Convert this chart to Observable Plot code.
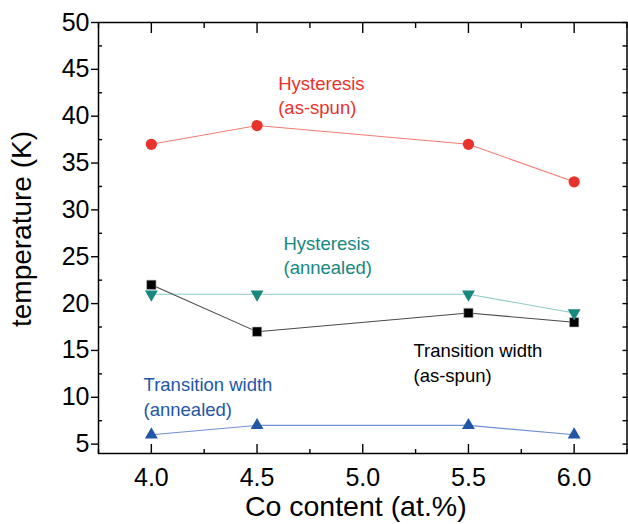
<!DOCTYPE html>
<html>
<head>
<meta charset="utf-8">
<script src="https://cdn.jsdelivr.net/npm/d3@7"></script>
<script src="https://cdn.jsdelivr.net/npm/@observablehq/plot@0.6"></script>
<style>
  html, body { margin: 0; padding: 0; background: #fff; }
  #chart svg { font-family: "Liberation Sans", Arial, Helvetica, sans-serif; }
</style>
</head>
<body>
<div id="chart"></div>
<script>
// Data
const coContent = [4.0, 4.5, 5.5, 6.0];
const hysteresisAsSpun = [37, 39, 37, 33];
const hysteresisAnnealed = [21, 21, 21, 19];
const widthAsSpun = [22, 17, 19, 18];
const widthAnnealed = [6, 7, 7, 6];

const xMajorTicks = [4.0, 4.5, 5.0, 5.5, 6.0];
const xMinorTicks = [3.75, 4.25, 4.75, 5.25, 5.75, 6.25];
const yMajorTicks = [5, 10, 15, 20, 25, 30, 35, 40, 45, 50];
const yMinorTicks = [7.5, 12.5, 17.5, 22.5, 27.5, 32.5, 37.5, 42.5, 47.5];

const labelTexts = ["Hysteresis\n(as-spun)", "Hysteresis\n(annealed)", "Transition width\n(as-spun)", "Transition width\n(annealed)"];
const labelX = [4.60, 4.625, 5.24, 3.963];
const labelY = [44.68, 27.55, 16.1, 12.47];

const colors = {red: "#e8322b", redLine: "#f27b6f", teal: "#17877f", tealLine: "#8ecbc6", black: "#000000", blackLine: "#4a4a4a", blue: "#2257a6", blueLine: "#6f90d2"};
const labelColors = [colors.red, colors.teal, "#000000", colors.blue];

const series = (ys) => coContent.map((x, i) => ({x, y: ys[i]}));
const sHA = series(hysteresisAsSpun);
const sHN = series(hysteresisAnnealed);
const sWA = series(widthAsSpun);
const sWN = series(widthAnnealed);
const labels = labelTexts.map((t, i) => ({t, x: labelX[i], y: labelY[i], c: labelColors[i]}));

const tk = {stroke: "#000", strokeWidth: 1.4, label: null, tickFormat: () => ""};

const chart = Plot.plot({
  width: 628,
  height: 524,
  marginTop: 22,
  marginRight: 1.5,
  marginBottom: 71,
  marginLeft: 98,
  style: {background: "#fff", color: "#000"},
  x: {domain: [3.75, 6.25], axis: null},
  y: {domain: [4, 50], axis: null},
  marks: [
    // lines
    Plot.line(sHA, {x: "x", y: "y", stroke: colors.redLine, strokeWidth: 1.1}),
    Plot.line(sHN, {x: "x", y: "y", stroke: colors.tealLine, strokeWidth: 1.1}),
    Plot.line(sWA, {x: "x", y: "y", stroke: colors.blackLine, strokeWidth: 1.1}),
    Plot.line(sWN, {x: "x", y: "y", stroke: colors.blueLine, strokeWidth: 1.1}),
    // markers
    Plot.dot(sHA, {x: "x", y: "y", r: 5.6, fill: colors.red, stroke: "none"}),
    Plot.dot(sWA, {x: "x", y: "y", symbol: "square", r: 5.3, fill: colors.black, stroke: "#bbb", strokeWidth: 0.6}),
    Plot.dot(sHN, {x: "x", y: "y", symbol: "triangle", r: 4.8, rotate: 180, fill: colors.teal, stroke: "none"}),
    Plot.dot(sWN, {x: "x", y: "y", symbol: "triangle", r: 4.8, fill: colors.blue, stroke: "none"}),
    // annotations
    Plot.text(labels, {x: "x", y: "y", text: "t", fill: "c", textAnchor: "start", lineAnchor: "top", fontSize: 18.5, lineHeight: 1.31}),
    // frame
    Plot.frame({stroke: "#000", strokeWidth: 1.5}),
    // bottom axis: labels + inward ticks
    Plot.axisX(xMajorTicks, {anchor: "bottom", tickSize: 0, tickPadding: 15, tickFormat: d3.format(".1f"), fontSize: 25, fill: "#000", label: null}),
    Plot.axisX(xMajorTicks, {anchor: "bottom", tickSize: -9, ...tk}),
    Plot.axisX(xMinorTicks, {anchor: "bottom", tickSize: -4, ...tk}),
    // top axis ticks
    Plot.axisX(xMajorTicks, {anchor: "top", tickSize: -10, ...tk}),
    Plot.axisX(xMinorTicks, {anchor: "top", tickSize: -5, ...tk}),
    // left axis
    Plot.axisY(yMajorTicks, {anchor: "left", tickSize: 7, tickPadding: 2, fontSize: 25, fill: "#000", stroke: "#000", strokeWidth: 1.4, label: null}),
    Plot.axisY(yMinorTicks, {anchor: "left", tickSize: -4, ...tk}),
    // right axis ticks
    Plot.axisY(yMajorTicks, {anchor: "right", tickSize: -5, ...tk}),
    Plot.axisY(yMinorTicks, {anchor: "right", tickSize: -5, ...tk}),
    // axis titles
    Plot.text(["Co content (at.%)"], {frameAnchor: "bottom", text: d => d, dy: 62, dx: -7, fontSize: 28.5, lineAnchor: "bottom", textAnchor: "middle", fill: "#000"}),
    Plot.text(["temperature (K)"], {frameAnchor: "left", text: d => d, rotate: -90, dx: -76.5, dy: -9, fontSize: 28, textAnchor: "middle", lineAnchor: "middle", fill: "#000"})
  ]
});
document.getElementById("chart").appendChild(chart);
</script>
</body>
</html>
